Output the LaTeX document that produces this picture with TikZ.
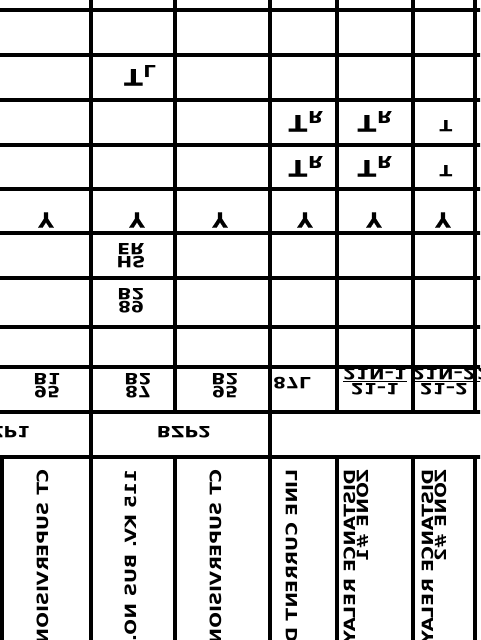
\documentclass[tikz,border=0pt]{standalone}
\usepackage{fontspec}
\usepackage{graphicx}
\newfontfamily\cad[FakeStretch=1.2]{DejaVu Sans Bold}
\newfontfamily\cadn[FakeBold=0.5]{DejaVu Sans Bold}
\newcommand{\flipv}[1]{\scalebox{1}[-1]{#1}}
\newcommand{\twoline}[2]{\vbox{\baselineskip=13pt\lineskiplimit=-50pt\lineskip=0pt\halign{\hfil##\hfil\cr #1\cr #2\cr}}}
\newcommand{\ruled}[2]{\vbox{\baselineskip=13pt\lineskiplimit=-50pt\lineskip=0pt\halign{\hfil##\hfil\cr #1\cr\noalign{\kern1pt\hrule height 1.6pt\kern1.2pt}#2\cr}}}
\newcommand{\vleft}[2]{\vbox{\baselineskip=13pt\lineskiplimit=-50pt\lineskip=0pt\halign{##\hfil\cr #1\cr #2\cr}}}
\newcommand{\tsub}[1]{{\fontsize{23}{23}\selectfont T}\kern0.5pt\raisebox{-4pt}{{\fontsize{16.5}{16.5}\selectfont #1}}}
\begin{document}
\begin{tikzpicture}[x=1pt,y=-1pt,
  grid/.style={line width=3.4pt},
  lab/.style={inner sep=0pt, font=\cad\fontsize{15.5}{13}\selectfont},
  ylab/.style={inner sep=0pt, font=\cadn\fontsize{21}{21}\selectfont},
  head/.style={lab, anchor=north}]
\useasboundingbox (0,0) rectangle (480,640);
\clip (0,0) rectangle (480,640);
\fill[white] (0,0) rectangle (480,640);
% grid
\foreach \y in {10,55,100,145,189,233,278,327,367,412,457}
  \draw[grid] (-5,\y) -- (485,\y);
\foreach \x in {91,270}
  \draw[grid] (\x,-5) -- (\x,645);
\foreach \x in {175,337,413,475}
  {\draw[grid] (\x,-5) -- (\x,412); \draw[grid] (\x,457) -- (\x,645);}
\draw[grid] (2,457) -- (2,645);
% row: T_L
\node[lab] (tl) at (140,75.5) {\flipv{\tsub{L}}};
% rows: T_R / T
\node[lab] (tr1) at (306,121.5) {\flipv{\tsub{R}}};
\node[lab] (tr2) at (375,121.5) {\flipv{\tsub{R}}};
\node[lab] (t1) at (446,126) {\flipv{T}};
\node[lab] (tr3) at (306,166.5) {\flipv{\tsub{R}}};
\node[lab] (tr4) at (375,166.5) {\flipv{\tsub{R}}};
\node[lab] (t2) at (446,171) {\flipv{T}};
% row: Y
\node[ylab] (y0) at (46,220) {\flipv{Y}};
\node[ylab] (y1) at (137,220) {\flipv{Y}};
\node[ylab] (y2) at (220,220) {\flipv{Y}};
\node[ylab] (y3) at (305,220) {\flipv{Y}};
\node[ylab] (y4) at (374,220) {\flipv{Y}};
\node[ylab] (y5) at (443,220) {\flipv{Y}};
% HS ER, 89 B2
\node[lab] (hser) at (131,256) {\flipv{\twoline{HS}{ER}}};
\node[lab] (b289) at (131,300.5) {\flipv{\twoline{89}{B2}}};
% device row
\node[lab] (d0) at (47,386) {\flipv{\twoline{95}{B1}}};
\node[lab] (d1) at (138,386) {\flipv{\twoline{87}{B2}}};
\node[lab] (d2) at (225,386) {\flipv{\twoline{95}{B2}}};
\node[lab] (d3) at (292,383) {\flipv{87L}};
\node[lab] (d4) at (375,381.5) {\flipv{\ruled{21–1}{21N–1}}};
\node[lab] (d5) at (444,381.5) {\flipv{\ruled{21–2}{21N–2}}};
\node[lab, anchor=west] (d6) at (477,381.5) {\flipv{\ruled{21–3}{21N–3}}};
% group row
\node[lab] (g1) at (3,432) {\flipv{BZP1}};
\node[lab] (g2) at (184,432) {\flipv{BZP2}};
% headers
\node[head] (h0) at (43,469) {\flipv{\rotatebox{90}{CT SUPERVISION}}};
\node[head] (h1) at (131,469) {\flipv{\rotatebox{90}{115 KV. BUS NO. 2}}};
\node[head] (h2) at (216,469) {\flipv{\rotatebox{90}{CT SUPERVISION}}};
\node[head] (h3) at (292,469) {\flipv{\rotatebox{90}{LINE CURRENT DIFF.}}};
\node[head] (h4) at (356,469) {\flipv{\rotatebox{90}{\vleft{DISTANCE RELAY}{ZONE \#1}}}};
\node[head] (h5) at (434,469) {\flipv{\rotatebox{90}{\vleft{DISTANCE RELAY}{ZONE \#2}}}};
\end{tikzpicture}
\end{document}
